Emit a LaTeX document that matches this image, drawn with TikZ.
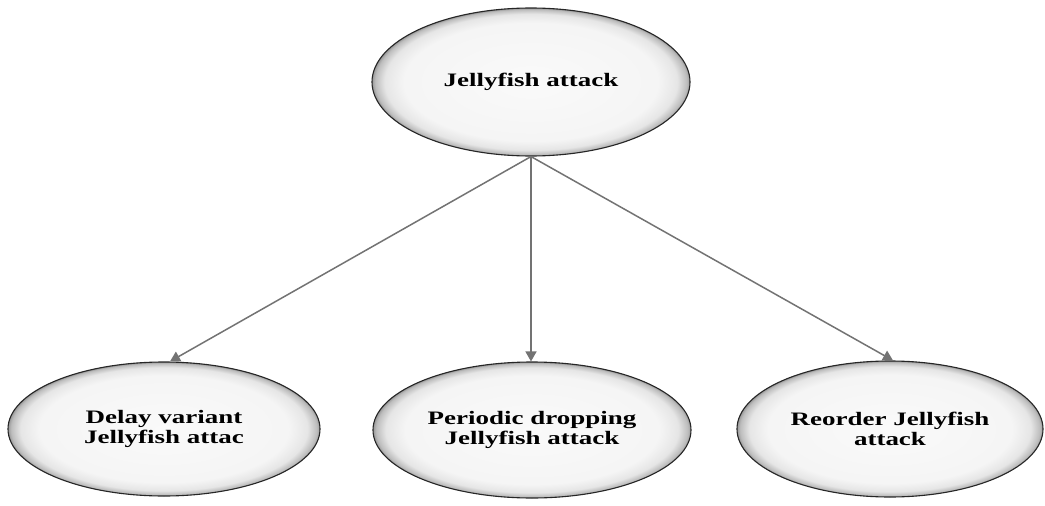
\documentclass[tikz,border=0pt]{standalone}
\usepackage{fontspec}
\setmainfont{Liberation Serif}
\usetikzlibrary{arrows.meta,shapes.geometric}

% pale centre, grey rim fading in just inside the outline
\pgfdeclareradialshading{rimshade}{\pgfpoint{0bp}{0bp}}{%
  color(0bp)=(black!2); color(20bp)=(black!4); color(23bp)=(black!10);
  color(24.5bp)=(black!26); color(25.5bp)=(black!55); color(26bp)=(black!70);
  color(50bp)=(black!70)}

\newcommand{\wide}[1]{\scalebox{1.42}[1]{#1}}

\tikzset{
  oval/.style={ellipse, draw=black!85, line width=1.1pt, shading=rimshade,
    inner sep=0pt, align=center,
    font=\fontsize{19}{20.5}\selectfont\bfseries},
  link/.style={draw=black!55, line width=1.5pt,
    -{Triangle[length=10pt,width=11pt]}}
}

\begin{document}
\begin{tikzpicture}[x=1pt,y=1pt]
  \useasboundingbox (0,0) rectangle (1045,-506);

  \node[oval, minimum width=318, minimum height=148] (root) at (531,-82)
    {\wide{Jellyfish attack}};
  \node[oval, minimum width=312, minimum height=134] (delay) at (164,-429)
    {\wide{Delay variant}\\\wide{Jellyfish attac}};
  \node[oval, minimum width=318, minimum height=136] (periodic) at (532,-430)
    {\wide{Periodic dropping}\\\wide{Jellyfish attack}};
  \node[oval, minimum width=306, minimum height=136] (reorder) at (890,-429)
    {\wide{Reorder Jellyfish}\\\wide{attack}};

  \draw[link] (root.south) -- ([xshift=6]delay.north);
  \draw[link] (root.south) -- ([xshift=-1]periodic.north);
  \draw[link] (root.south) -- ([xshift=3]reorder.north);
\end{tikzpicture}
\end{document}
